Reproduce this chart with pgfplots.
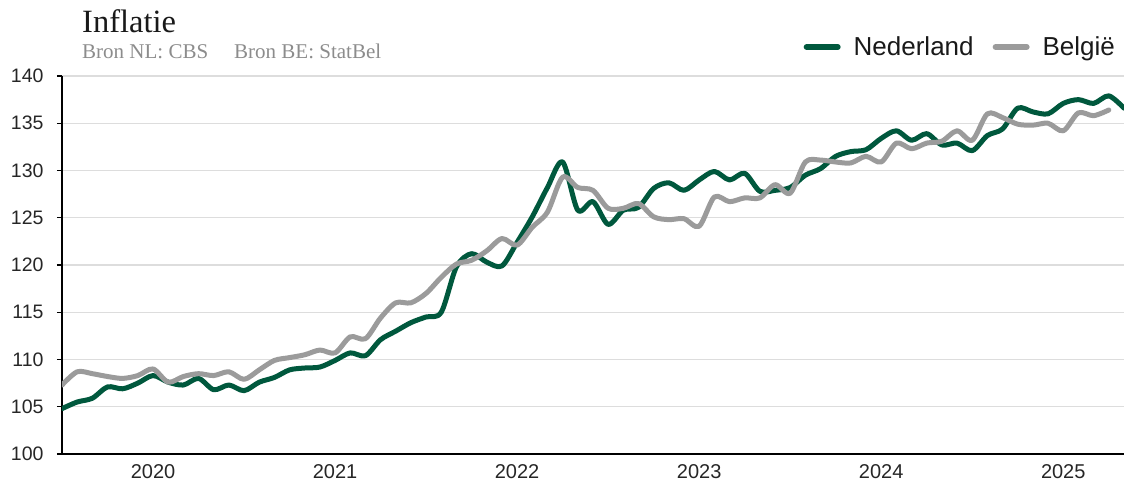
\documentclass[border=0pt]{standalone}
\usepackage{pgfplots}
\pgfplotsset{compat=1.18}
\usepackage{pgfplotstable}
\usepackage{fontspec}
\setmainfont{Liberation Sans}
\newfontfamily\slab{Liberation Serif}
\definecolor{nlgreen}{HTML}{00583D}
\definecolor{begray}{HTML}{9B9B9B}
\definecolor{gridgray}{HTML}{DDDDDD}
\pgfplotstableread{
i NL
0 104.8
1 105.5
2 105.9
3 107.1
4 106.9
5 107.5
6 108.3
7 107.6
8 107.3
9 108.0
10 106.8
11 107.3
12 106.7
13 107.6
14 108.1
15 108.9
16 109.1
17 109.2
18 109.9
19 110.7
20 110.4
21 112.1
22 113.0
23 113.9
24 114.5
25 115.0
26 119.8
27 121.2
28 120.3
29 119.9
30 122.4
31 125.1
32 128.2
33 130.9
34 125.8
35 126.7
36 124.3
37 125.8
38 126.1
39 128.1
40 128.7
41 127.9
42 129.0
43 129.9
44 129.0
45 129.7
46 127.8
47 127.9
48 128.2
49 129.5
50 130.2
51 131.5
52 132.0
53 132.2
54 133.4
55 134.2
56 133.2
57 133.9
58 132.7
59 132.9
60 132.1
61 133.7
62 134.4
63 136.6
64 136.2
65 136.0
66 137.1
67 137.5
68 137.1
69 137.9
70 136.6
}\nltable
\pgfplotstableread{
i BE
0 107.3
1 108.7
2 108.5
3 108.2
4 108.0
5 108.3
6 109.0
7 107.6
8 108.2
9 108.5
10 108.3
11 108.7
12 107.9
13 108.9
14 109.9
15 110.2
16 110.5
17 111.0
18 110.7
19 112.4
20 112.2
21 114.4
22 116.0
23 116.0
24 117.0
25 118.7
26 120.1
27 120.5
28 121.5
29 122.8
30 122.1
31 124.0
32 125.6
33 129.3
34 128.2
35 127.9
36 126.0
37 126.0
38 126.5
39 125.1
40 124.8
41 124.9
42 124.1
43 127.2
44 126.7
45 127.1
46 127.1
47 128.5
48 127.6
49 130.9
50 131.1
51 130.9
52 130.8
53 131.5
54 130.9
55 132.9
56 132.3
57 132.9
58 133.1
59 134.2
60 133.2
61 136.0
62 135.6
63 134.9
64 134.8
65 135.0
66 134.2
67 136.1
68 135.8
69 136.4
}\betable
\begin{document}
\begin{tikzpicture}[x=1pt,y=1pt]
\path[use as bounding box] (-62,-28) rectangle (1062,454);
\begin{axis}[
  name=ax,
  at={(0,0)}, anchor=south west,
  scale only axis,
  width=1062pt, height=378pt,
  xmin=0, xmax=70,
  ymin=100, ymax=140,
  ytick={100,105,...,140},
  xtick={6,18,30,42,54,66},
  xticklabels={2020,2021,2022,2023,2024,2025},
  axis x line*=bottom,
  axis y line*=left,
  axis line style={black, line width=1.3pt},
  x axis line style={-}, y axis line style={-},
  ymajorgrids,
  grid style={gridgray, line width=1.2pt},
  major tick length=5pt,
  ytick style={black, line width=1.2pt},
  xtick style={draw=none},
  tick align=outside,
  /pgf/number format/assume math mode=true,
  yticklabel style={font=\fontsize{19.5}{21}\selectfont, text=black!85, xshift=-10pt},
  xticklabel style={font=\fontsize{20}{22}\selectfont, text=black!85, yshift=-2pt},
  legend columns=2,
  legend style={at={(1,1)}, anchor=east, yshift=29pt, xshift=-9pt, draw=none, fill=none,
    inner sep=0pt, outer sep=0pt,
    nodes={inner sep=0pt},
    font=\fontsize{26}{28}\selectfont, text=black!90,
    /tikz/every odd column/.append style={column sep=13pt},
    /tikz/every even column/.append style={column sep=19pt}},
  legend image code/.code={\draw[#1, line width=6pt, line cap=round] (0pt,0pt) -- (31pt,0pt);},
]
\addplot[nlgreen, line width=5pt, smooth, tension=0.5, line cap=round, line join=round] table[x=i,y=NL] {\nltable};
\addlegendentry{Nederland}
\addplot[begray, line width=5pt, smooth, tension=0.5, line cap=round, line join=round] table[x=i,y=BE] {\betable};
\addlegendentry{België}
\end{axis}
\node[anchor=base west, inner sep=0pt, font=\slab\fontsize{32.5}{34}\selectfont, text=black!90] at (20,421) {Inflatie};
\node[anchor=base west, inner sep=0pt, font=\slab\fontsize{21}{23}\selectfont, text=black!45] at (20,395) {Bron NL: CBS};
\node[anchor=base west, inner sep=0pt, font=\slab\fontsize{21}{23}\selectfont, text=black!45] at (172,395) {Bron BE: StatBel};
\end{tikzpicture}
\end{document}
